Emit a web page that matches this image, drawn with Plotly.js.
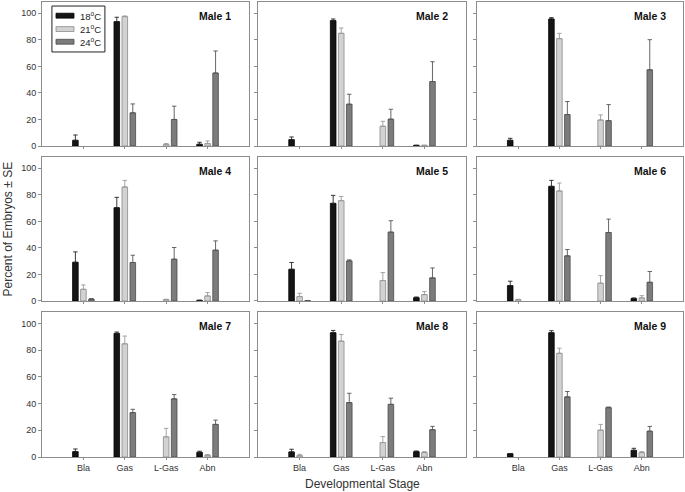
<!DOCTYPE html>
<html>
<head>
<meta charset="utf-8">
<script src="https://cdn.plot.ly/plotly-3.0.1.min.js"></script>
<style>html,body{margin:0;padding:0;background:#fff;}#chart{width:685px;height:492px;}</style>
</head>
<body>
<div id="chart"></div>
<script>
// ---- data ----
const stages = ['Bla', 'Gas', 'L-Gas', 'Abn'];
const males = ['Male 1', 'Male 2', 'Male 3', 'Male 4', 'Male 5', 'Male 6', 'Male 7', 'Male 8', 'Male 9'];
const temps = ['18<sup>o</sup>C', '21<sup>o</sup>C', '24<sup>o</sup>C'];

// mean percent of embryos, one row per male, columns = stages
const mean18 = [
  [4.3, 93.7, null, 1.3],
  [4.8, 94.5, null, 0.5],
  [4.3, 95.7, null, null],
  [29.2, 70.3, null, 0.5],
  [23.9, 73.6, null, 2.5],
  [11.6, 86.4, null, 1.8],
  [4.0, 92.5, null, 3.5],
  [3.8, 93.0, null, 4.0],
  [2.5, 93.0, null, 5.0]
];
const se18 = [
  [4.0, 3.3, 0, 1.5],
  [2.0, 1.2, 0, 0],
  [1.5, 1.0, 0, 0],
  [7.8, 7.8, 0, 0],
  [5.1, 6.0, 0, 0.5],
  [3.3, 4.5, 0, 0.5],
  [2.0, 1.0, 0, 0.8],
  [2.0, 1.7, 0, 0.5],
  [0, 1.5, 0, 1.5]
];
const mean21 = [
  [null, 97.5, 1.3, 1.8],
  [null, 84.9, 14.9, 0.5],
  [null, 80.9, 19.6, null],
  [8.8, 85.9, 1.0, 3.8],
  [3.3, 75.6, 15.4, 4.8],
  [1.0, 82.9, 13.4, 2.3],
  [null, 84.7, 15.1, 1.3],
  [1.0, 86.7, 10.8, 3.3],
  [null, 77.6, 20.1, 3.3]
];
const se21 = [
  [0, 0.5, 0.5, 2.0],
  [0, 4.0, 3.7, 0],
  [0, 4.0, 3.8, 0],
  [3.3, 5.0, 0.3, 2.5],
  [2.5, 3.2, 6.0, 2.3],
  [0.3, 6.0, 5.7, 1.7],
  [0, 5.8, 6.3, 0.5],
  [1.0, 5.0, 4.5, 0.7],
  [0, 3.8, 4.3, 0.7]
];
const mean24 = [
  [null, 25.0, 20.0, 55.0],
  [null, 31.5, 20.2, 48.6],
  [null, 23.7, 19.1, 57.4],
  [1.3, 29.0, 31.5, 38.3],
  [0.3, 30.2, 51.9, 17.4],
  [null, 34.0, 51.6, 14.1],
  [null, 33.2, 43.5, 24.4],
  [null, 40.7, 39.4, 20.4],
  [null, 45.0, 36.9, 19.3]
];
const se24 = [
  [0, 6.7, 10.0, 16.6],
  [0, 7.5, 7.5, 14.9],
  [0, 9.8, 12.1, 22.7],
  [0.5, 5.5, 8.8, 7.0],
  [0, 0.8, 8.6, 7.5],
  [0, 4.8, 10.1, 8.1],
  [0, 2.5, 3.2, 3.2],
  [0, 7.0, 4.6, 2.5],
  [0, 4.0, 0.5, 3.6]
];
const yTicks = [0, 20, 40, 60, 80, 100];

// ---- styles ----
const means = [mean18, mean21, mean24];
const ses = [se18, se21, se24];
const fills = ['#151515', '#d2d2d2', '#7c7c7c'];
const edges = ['#000000', '#8a8a8a', '#4a4a4a'];
const errCols = ['#222222', '#9a9a9a', '#555555'];
const FONT = 'Liberation Sans, Arial, sans-serif';
const frame = '#8c8c8c';

const colDom = [[0, 0.3229], [0.337, 0.6615], [0.6786, 1.0]];
const rowDom = [[0.6835, 1.0], [0.3429, 0.6593], [0.0, 0.3187]];

const traces = [];
const layout = {
  width: 685, height: 492,
  margin: {l: 42, r: 2, t: 2, b: 35},
  paper_bgcolor: '#ffffff', plot_bgcolor: '#ffffff',
  barmode: 'group', bargap: 0.42, bargroupgap: 0.3,
  showlegend: false,
  font: {family: FONT, size: 9, color: '#333'},
  annotations: [], shapes: []
};

for (let i = 0; i < males.length; i++) {
  const sfx = i === 0 ? '' : String(i + 1);
  const col = i % 3, row = Math.floor(i / 3);
  for (let t = 0; t < 3; t++) {
    traces.push({
      type: 'bar', x: stages, y: means[t][i], name: temps[t],
      xaxis: 'x' + sfx, yaxis: 'y' + sfx,
      marker: {color: fills[t], line: {color: edges[t], width: 0.8}},
      error_y: {type: 'data', array: ses[t][i], symmetric: false,
        arrayminus: ses[t][i].map(() => 0), color: errCols[t], thickness: 0.9, width: 2.2},
      hoverinfo: 'skip'
    });
  }
  layout['xaxis' + sfx] = {
    domain: colDom[col], anchor: 'y' + sfx, type: 'category',
    range: [-1, 4], showline: true, mirror: true, linecolor: frame, linewidth: 1,
    ticks: 'outside', ticklen: 2, tickcolor: frame, showgrid: false, zeroline: false,
    showticklabels: row === 2, tickfont: {family: FONT, size: 9, color: '#333'}, fixedrange: true
  };
  layout['yaxis' + sfx] = {
    domain: rowDom[row], anchor: 'x' + sfx, range: [0, 108.5],
    tickvals: yTicks, ticktext: yTicks.map(String),
    showline: true, mirror: true, linecolor: frame, linewidth: 1,
    ticks: 'outside', ticklen: 3, tickcolor: frame, showgrid: false, zeroline: false,
    showticklabels: col === 0, tickfont: {family: FONT, size: 9, color: '#333'}, fixedrange: true
  };
  layout.annotations.push({
    xref: 'x' + sfx + ' domain', yref: 'y' + sfx + ' domain',
    x: 0.925, y: 0.903, xanchor: 'right', yanchor: 'middle',
    text: '<b>' + males[i] + '</b>', showarrow: false,
    font: {family: FONT, size: 10.5, color: '#111'}
  });
}

// manual legend in panel 1
layout.shapes.push({type: 'rect', xref: 'x domain', yref: 'y domain',
  x0: 0.048, x1: 0.304, y0: 0.653, y1: 0.972, line: {color: '#222', width: 1}, fillcolor: '#fff'});
const legY = [0.905, 0.812, 0.724];
for (let t = 0; t < 3; t++) {
  layout.shapes.push({type: 'rect', xref: 'x domain', yref: 'y domain',
    x0: 0.0676, x1: 0.1546, y0: legY[t] - 0.017, y1: legY[t] + 0.017,
    fillcolor: fills[t], line: {color: edges[t], width: 0.8}});
  layout.annotations.push({xref: 'x domain', yref: 'y domain', x: 0.174, y: legY[t],
    xanchor: 'left', yanchor: 'middle', text: temps[t], showarrow: false,
    font: {family: FONT, size: 9.5, color: '#222'}});
}

// axis titles
layout.annotations.push({xref: 'paper', yref: 'paper', x: -0.0546, y: 0.5,
  xanchor: 'center', yanchor: 'middle', textangle: -90, showarrow: false,
  text: 'Percent of Embryos \u00b1 SE', font: {family: FONT, size: 12, color: '#333'}});
layout.annotations.push({xref: 'paper', yref: 'paper', x: 0.5, y: -0.059,
  xanchor: 'center', yanchor: 'middle', showarrow: false,
  text: 'Developmental Stage', font: {family: FONT, size: 12, color: '#333'}});

Plotly.newPlot('chart', traces, layout, {displayModeBar: false, staticPlot: true});
</script>
</body>
</html>
